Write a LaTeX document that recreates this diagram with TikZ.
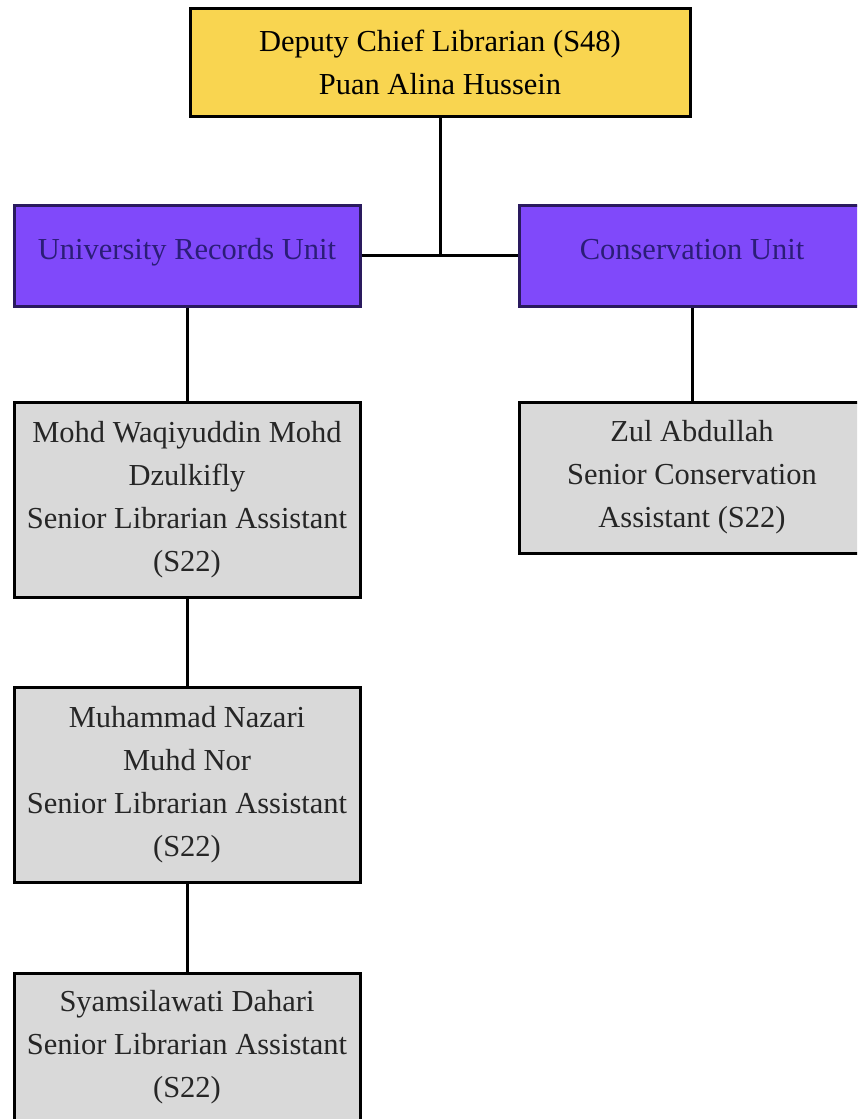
\documentclass[tikz,border=0pt]{standalone}
\usepackage{fontspec}
\setmainfont{Liberation Serif}
\usetikzlibrary{positioning}

\definecolor{headyellow}{HTML}{F9D550}
\definecolor{unitpurple}{HTML}{8049FA}
\definecolor{unitedge}{HTML}{2A1A5E}
\definecolor{unittext}{HTML}{2B1D78}
\definecolor{staffgrey}{HTML}{D9D9D9}

\begin{document}
\begin{tikzpicture}
    [
        x=1pt, y=-1pt,
        every node/.style={font=\fontsize{30.5}{43}\selectfont, align=center, inner sep=0pt},
        head/.style={draw=black, line width=3pt, fill=headyellow, minimum width=500pt, minimum height=108pt},
        unit/.style={draw=unitedge, line width=3pt, fill=unitpurple, text=unittext, minimum width=346pt, minimum height=101pt,
                     text height=0.95em, text depth=0.2em},
        staff/.style={draw=black, line width=3pt, fill=staffgrey, text=black!85, minimum width=346pt},
        link/.style={line width=3pt}
    ]
        \useasboundingbox (0,0) rectangle (857,1119);
        \clip (0,0) rectangle (857,1119);
        % =========================================================================
        % NODES
        % =========================================================================
        % --- Head ---
        \node [head] (chief) at (440,62) {Deputy Chief Librarian (S48)\\Puan Alina Hussein};

        % --- Units ---
        \node [unit] (records) at (187,255.5) {University Records Unit};
        \node [unit] (conserve) at (692,255.5) {Conservation Unit};

        % --- Staff ---
        \node [staff, minimum height=195pt] (waqi) at (187,499.5)
            {Mohd Waqiyuddin Mohd\\Dzulkifly\\Senior Librarian Assistant\\(S22)};
        \node [staff, minimum height=195pt] (nazari) at (187,784.5)
            {Muhammad Nazari\\Muhd Nor\\Senior Librarian Assistant\\(S22)};
        % last box runs off the page, so pad below the text
        \node [staff, minimum height=195pt, anchor=north] (syams) at (187,972)
            {Syamsilawati Dahari\\Senior Librarian Assistant\\(S22)\\[11pt]\mbox{}};
        \node [staff, minimum height=151pt] (zul) at (692,477.5)
            {Zul Abdullah\\Senior Conservation\\Assistant (S22)};

        % =========================================================================
        % PATHS
        % =========================================================================
        \coordinate (fork) at (chief.south |- records.east);
        \draw [link] (chief.south) -- (fork);
        \draw [link] (records.east) -- (conserve.west);
        \draw [link] (records.south) -- (waqi.north);
        \draw [link] (waqi.south) -- (nazari.north);
        \draw [link] (nazari.south) -- (syams.north);
        \draw [link] (conserve.south) -- (zul.north);

    \end{tikzpicture}
\end{document}
